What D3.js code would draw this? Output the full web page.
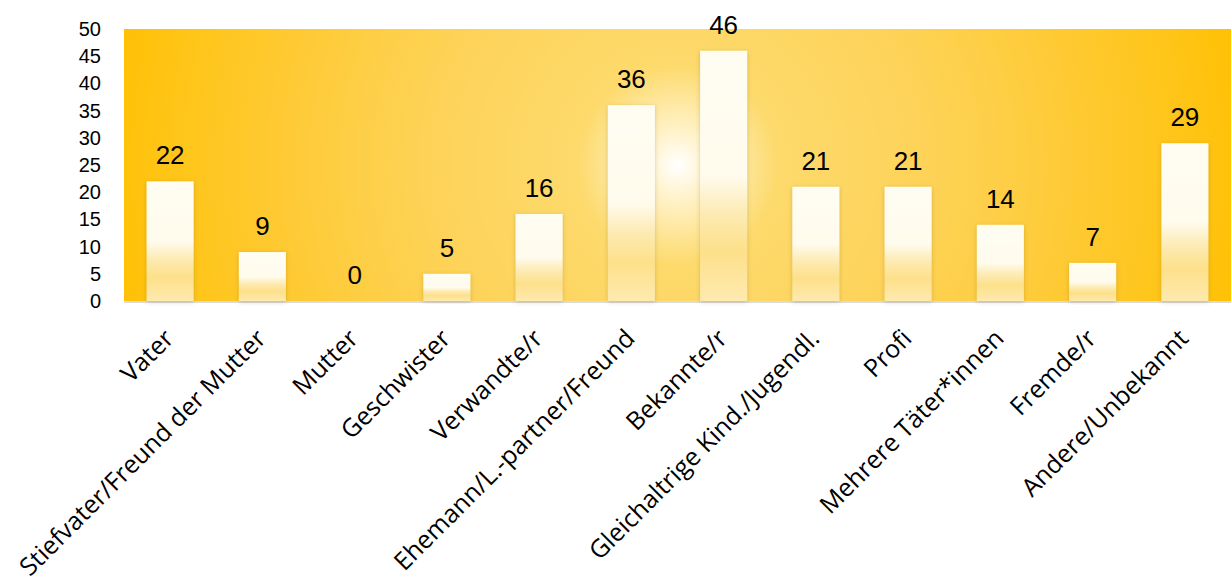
<!DOCTYPE html>
<html>
<head>
<meta charset="utf-8">
<script src="https://cdn.jsdelivr.net/npm/d3@7"></script>
<style>
  body { margin: 0; background: #fff; }
  svg { display: block; }
</style>
</head>
<body>
<div id="chart"></div>
<script>
// Chart data
const categories = [
    'Vater', 'Stiefvater/Freund der Mutter', 'Mutter', 'Geschwister',
    'Verwandte/r', 'Ehemann/L.-partner/Freund', 'Bekannte/r',
    'Gleichaltrige Kind./Jugendl.', 'Profi', 'Mehrere Täter*innen',
    'Fremde/r', 'Andere/Unbekannt'
];
const values = [22, 9, 0, 5, 16, 36, 46, 21, 21, 14, 7, 29];
const yTicks = [0, 5, 10, 15, 20, 25, 30, 35, 40, 45, 50];

const W = 1231, H = 585;
const margin = {top: 29, right: 0, bottom: 284, left: 124};
const width = W - margin.left - margin.right;
const height = H - margin.top - margin.bottom;

const svg = d3.select('#chart')
    .append('svg')
    .attr('width', W)
    .attr('height', H);

const defs = svg.append('defs');

// Background glow: white in the middle, fading to orange-yellow
const bg = defs.append('radialGradient')
    .attr('id', 'bg-grad')
    .attr('gradientUnits', 'userSpaceOnUse')
    .attr('cx', width / 2).attr('cy', height / 2)
    .attr('r', 590);
[[0, '#ffffff'], [0.05, '#fff4d0'], [0.17, '#fdda6c'], [0.4, '#fdd35a'],
 [0.65, '#fecb38'], [1, '#ffc000']].forEach(([o, c]) => {
    bg.append('stop').attr('offset', o).attr('stop-color', c);
});

// Bar fill: cream top, yellow band near the bottom
const barGrad = defs.append('linearGradient')
    .attr('id', 'bar-grad')
    .attr('x1', 0).attr('y1', 0).attr('x2', 0).attr('y2', 1);
[[0, '#fffdf2'], [0.5, '#fffbed'], [0.66, '#fdeab0'], [0.8, '#fde08a'],
 [1, '#feeab0']].forEach(([o, c]) => {
    barGrad.append('stop').attr('offset', o).attr('stop-color', c);
});

const shadow = defs.append('filter')
    .attr('id', 'bar-shadow')
    .attr('x', '-30%').attr('y', '-10%')
    .attr('width', '160%').attr('height', '120%');
shadow.append('feDropShadow')
    .attr('dx', 0).attr('dy', 1)
    .attr('stdDeviation', 2)
    .attr('flood-color', '#7a5a00')
    .attr('flood-opacity', 0.3);

const g = svg.append('g')
    .attr('transform', `translate(${margin.left},${margin.top})`);

// Scales
const x = d3.scaleBand()
    .domain(categories)
    .range([0, width])
    .paddingInner(0.49)
    .paddingOuter(0.245);

const y = d3.scaleLinear()
    .domain([0, 50])
    .range([height, 0]);

// Plot background
g.append('rect')
    .attr('width', width)
    .attr('height', height)
    .attr('fill', 'url(#bg-grad)');

// Baseline
g.append('line')
    .attr('x1', 0).attr('x2', width)
    .attr('y1', height + 1).attr('y2', height + 1)
    .attr('stroke', '#dcdcdc')
    .attr('stroke-width', 2);

// Y axis (labels only)
const yAxis = g.append('g')
    .attr('class', 'y-axis')
    .call(d3.axisLeft(y).tickValues(yTicks).tickSize(0).tickPadding(23));
yAxis.select('.domain').remove();
yAxis.selectAll('text')
    .attr('fill', '#000')
    .style('font-family', '"Liberation Sans", Arial, sans-serif')
    .style('font-size', '20px');

// Bars
g.selectAll('.bar')
    .data(values)
    .enter()
    .append('rect')
    .attr('class', 'bar')
    .attr('x', (d, i) => x(categories[i]))
    .attr('y', d => y(d))
    .attr('width', x.bandwidth())
    .attr('height', d => height - y(d))
    .attr('fill', 'url(#bar-grad)')
    .attr('filter', 'url(#bar-shadow)');

// Value labels
g.selectAll('.value-label')
    .data(values)
    .enter()
    .append('text')
    .attr('class', 'value-label')
    .attr('x', (d, i) => x(categories[i]) + x.bandwidth() / 2)
    .attr('y', d => y(d) - 17)
    .attr('text-anchor', 'middle')
    .style('font-family', '"Liberation Sans", Arial, sans-serif')
    .style('font-size', '26px')
    .attr('fill', '#000')
    .text(d => d);

// X axis labels, rotated
const xAxis = g.append('g')
    .attr('class', 'x-axis')
    .attr('transform', `translate(0,${height})`)
    .call(d3.axisBottom(x).tickSize(0).tickPadding(0));
xAxis.select('.domain').remove();
xAxis.selectAll('text')
    .attr('fill', '#000')
    .attr('text-anchor', 'end')
    .attr('dy', 0)
    .attr('transform', 'translate(5,39) rotate(-45)')
    .style('font-family', '"Open Sans", sans-serif')
    .style('font-size', '25px');
</script>
</body>
</html>
